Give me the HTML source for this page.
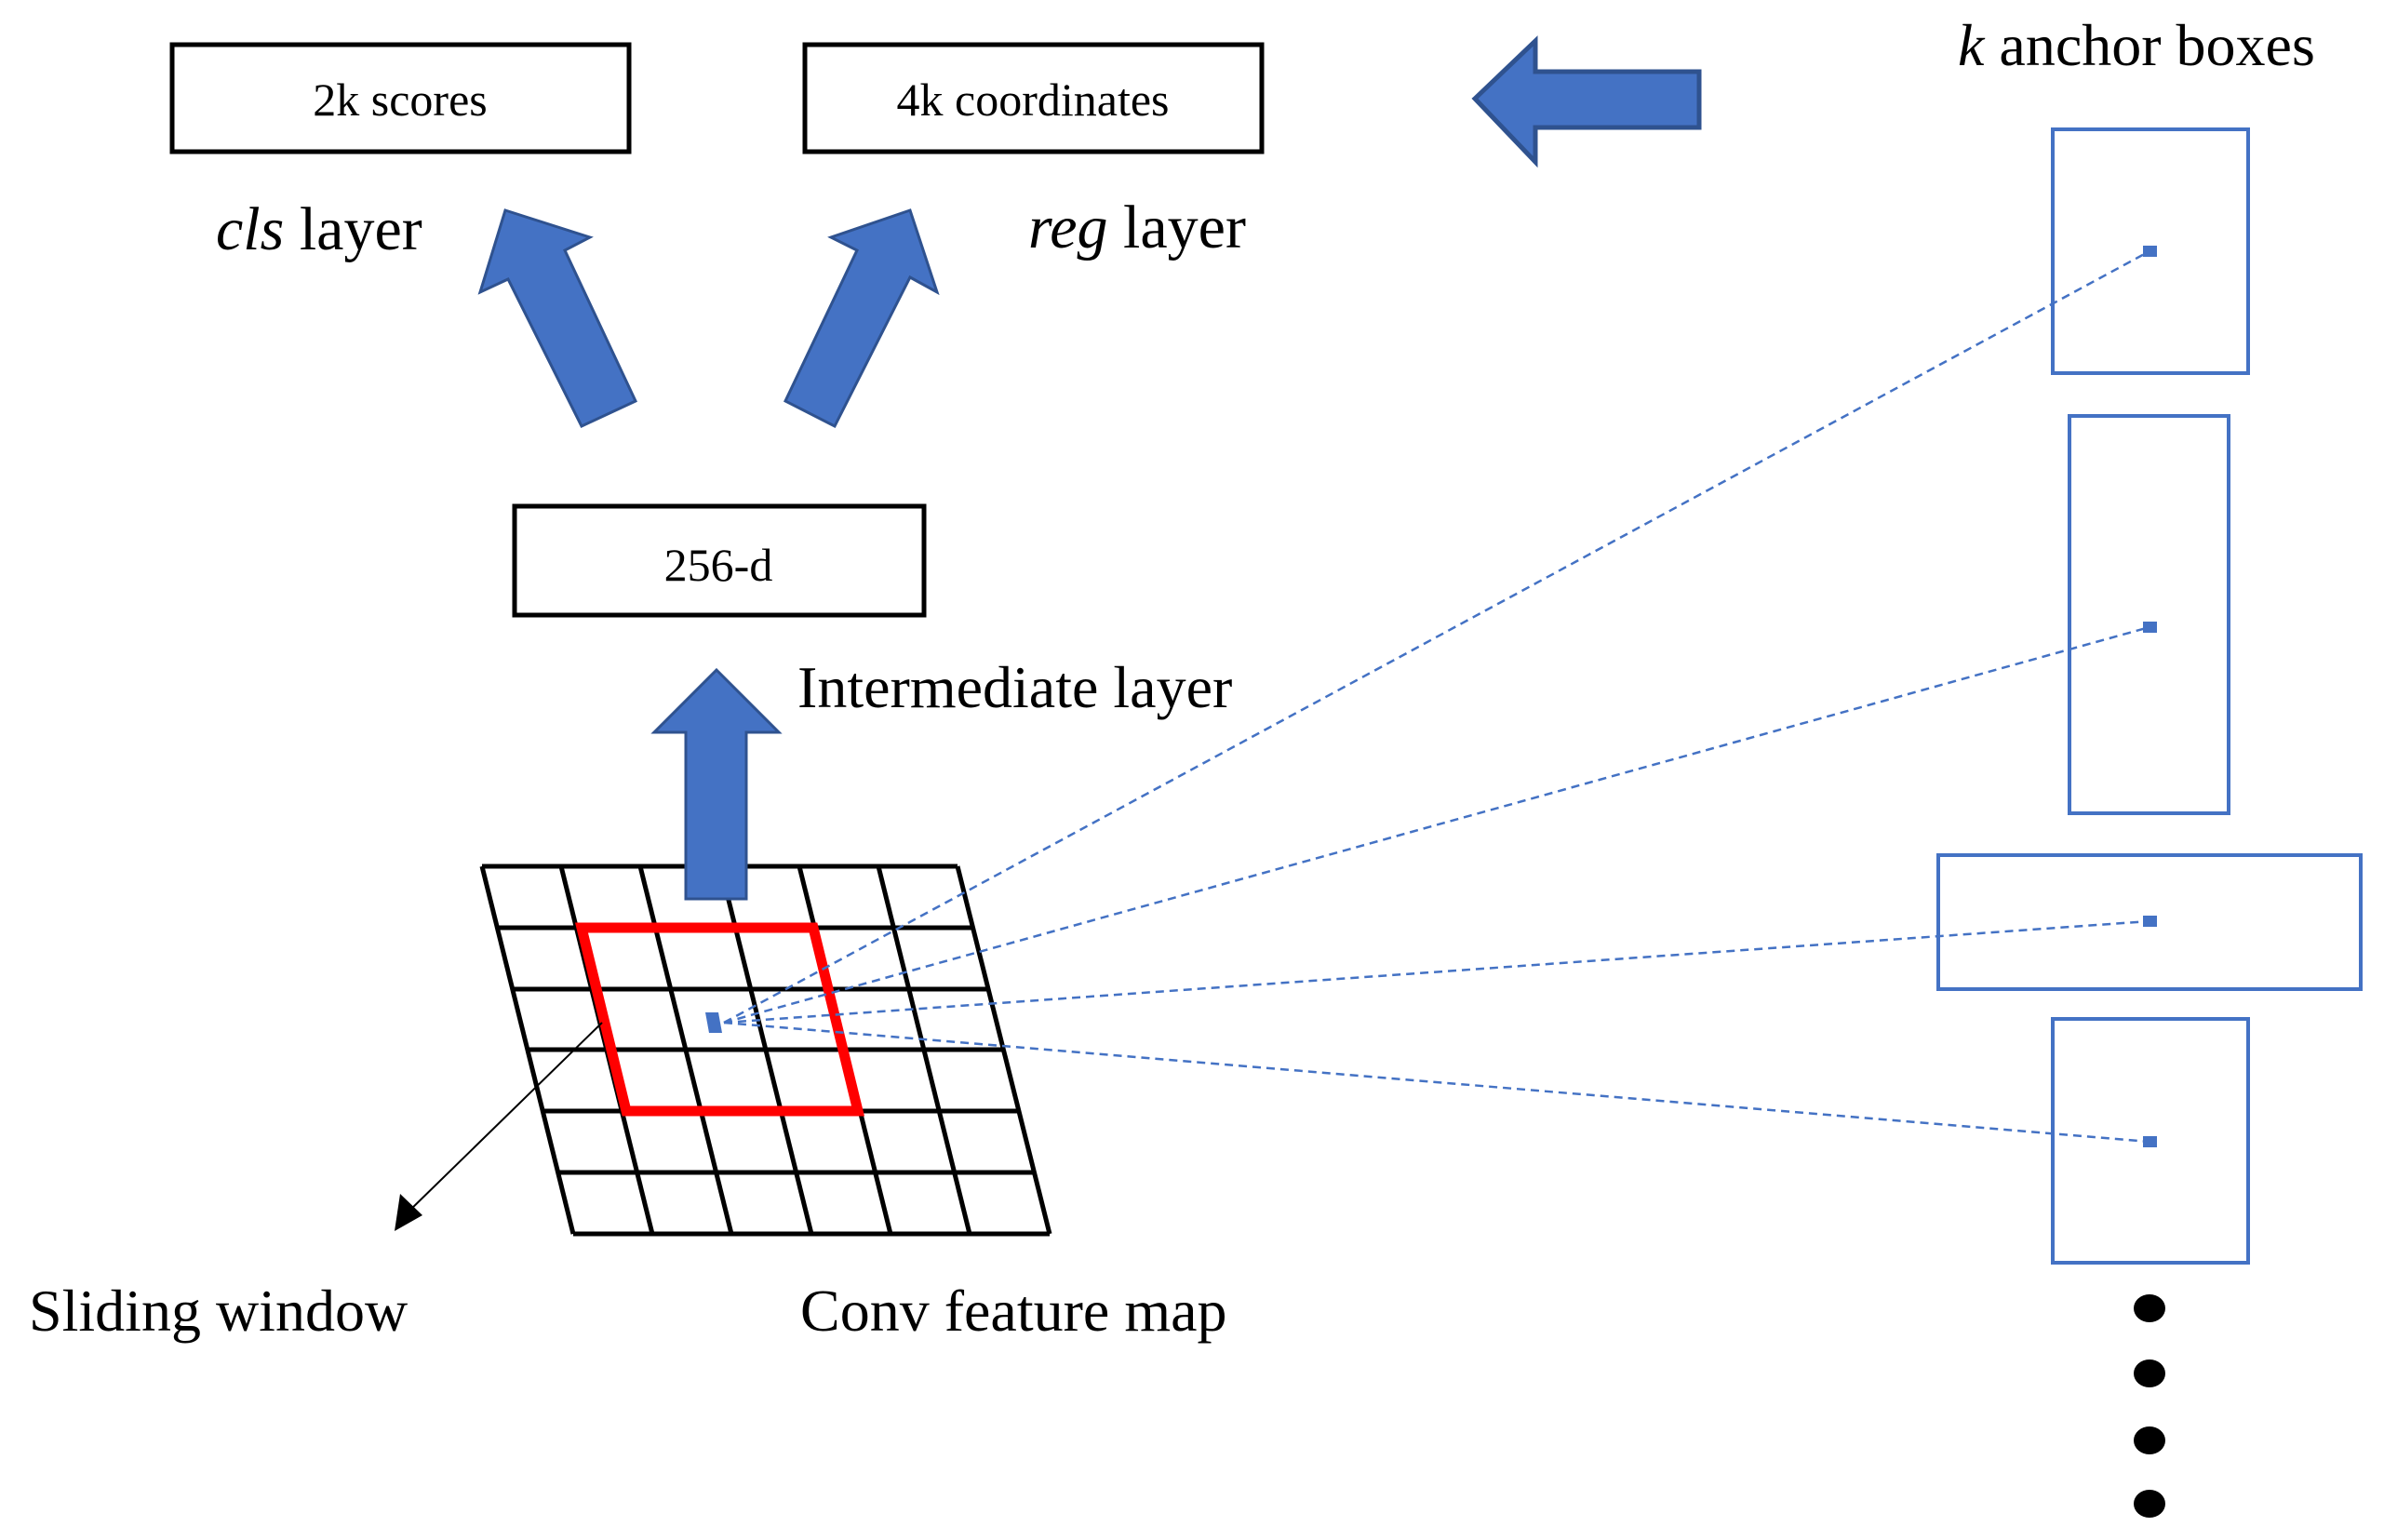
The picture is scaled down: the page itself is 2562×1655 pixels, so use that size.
<!DOCTYPE html>
<html><head><meta charset="utf-8"><style>
html,body{margin:0;padding:0;background:#fff;}
svg{display:block;}
text{font-family:"Liberation Serif",serif;fill:#000;}
</style></head><body>
<svg width="2562" height="1655" viewBox="0 0 2562 1655" xmlns="http://www.w3.org/2000/svg">
<!-- top boxes -->
<rect x="185" y="48" width="491" height="115" fill="#fff" stroke="#000" stroke-width="5"/>
<text x="430" y="124" font-size="50" text-anchor="middle">2k scores</text>
<rect x="865" y="48" width="491" height="115" fill="#fff" stroke="#000" stroke-width="5"/>
<text x="1110" y="124" font-size="50" text-anchor="middle">4k coordinates</text>

<text x="232" y="268" font-size="66"><tspan font-style="italic">cls</tspan> layer</text>
<text x="1105" y="266" font-size="66"><tspan font-style="italic">reg</tspan> layer</text>

<!-- diagonal arrows -->
<polygon points="543,226 634,255 607,269 683,431 625,458 546,300 516,314" fill="#4472C4" stroke="#2F528F" stroke-width="3"/>
<polygon points="978,226 893,255 921,269 844,431 897,458 978,298 1007,314" fill="#4472C4" stroke="#2F528F" stroke-width="3"/>

<!-- 256-d -->
<rect x="553" y="544" width="440" height="117" fill="#fff" stroke="#000" stroke-width="5"/>
<text x="772" y="624" font-size="50" text-anchor="middle">256-d</text>
<text x="857" y="760" font-size="64">Intermediate layer</text>

<!-- grid -->
<g stroke="#000" stroke-width="5" fill="none">
<line x1="518" y1="931" x2="1029" y2="931"/>
<line x1="534" y1="997" x2="1045" y2="997"/>
<line x1="551" y1="1063" x2="1062" y2="1063"/>
<line x1="567" y1="1128" x2="1078" y2="1128"/>
<line x1="583" y1="1194" x2="1094" y2="1194"/>
<line x1="600" y1="1260" x2="1111" y2="1260"/>
<line x1="616" y1="1326" x2="1128" y2="1326"/>
<line x1="518" y1="931" x2="616" y2="1326"/>
<line x1="603" y1="931" x2="701" y2="1326"/>
<line x1="688" y1="931" x2="786" y2="1326"/>
<line x1="774" y1="931" x2="872" y2="1326"/>
<line x1="859" y1="931" x2="957" y2="1326"/>
<line x1="944" y1="931" x2="1042" y2="1326"/>
<line x1="1029" y1="931" x2="1128" y2="1326"/>
</g>
<polygon points="625,997 874,997 922,1194 673,1194" fill="none" stroke="#FF0000" stroke-width="11" stroke-linejoin="miter"/>

<!-- up arrow -->
<polygon points="770,720 837,787 802,787 802,966 737,966 737,787 703,787" fill="#4472C4" stroke="#2F528F" stroke-width="3"/>

<!-- sliding window pointer -->
<line x1="647" y1="1099" x2="436" y2="1305" stroke="#000" stroke-width="2"/>
<polygon points="424,1323 430,1283 454,1306" fill="#000"/>

<!-- center point -->
<polygon points="758,1088 772,1088 776,1110 762,1110" fill="#4472C4"/>

<!-- dashed lines -->
<g stroke="#4472C4" stroke-width="2.5" stroke-dasharray="9,6" fill="none">
<line x1="778" y1="1099" x2="2310" y2="270"/>
<line x1="778" y1="1099" x2="2310" y2="674"/>
<line x1="778" y1="1099" x2="2310" y2="990"/>
<line x1="778" y1="1099" x2="2310" y2="1227"/>
</g>

<text x="31" y="1430" font-size="64">Sliding window</text>
<text x="860" y="1430" font-size="64">Conv feature map</text>

<!-- left arrow -->
<polygon points="1585,106 1650,44 1650,77 1826,77 1826,137 1650,137 1650,174" fill="#4472C4" stroke="#2F528F" stroke-width="5"/>

<text x="2104" y="70" font-size="64"><tspan font-style="italic">k</tspan> anchor boxes</text>

<!-- anchor boxes -->
<g fill="none" stroke="#4472C4" stroke-width="4">
<rect x="2206" y="139" width="210" height="262"/>
<rect x="2224" y="447" width="171" height="427"/>
<rect x="2083" y="919" width="454" height="144"/>
<rect x="2206" y="1095" width="210" height="262"/>
</g>
<g fill="#4472C4">
<rect x="2303" y="264" width="15" height="12"/>
<rect x="2303" y="668" width="15" height="12"/>
<rect x="2303" y="984" width="15" height="12"/>
<rect x="2303" y="1221" width="15" height="12"/>
</g>
<g fill="#000">
<ellipse cx="2310" cy="1406" rx="17" ry="15"/>
<ellipse cx="2310" cy="1476" rx="17" ry="15"/>
<ellipse cx="2310" cy="1548" rx="17" ry="15"/>
<ellipse cx="2310" cy="1616" rx="17" ry="15"/>
</g>
</svg>
</body></html>
